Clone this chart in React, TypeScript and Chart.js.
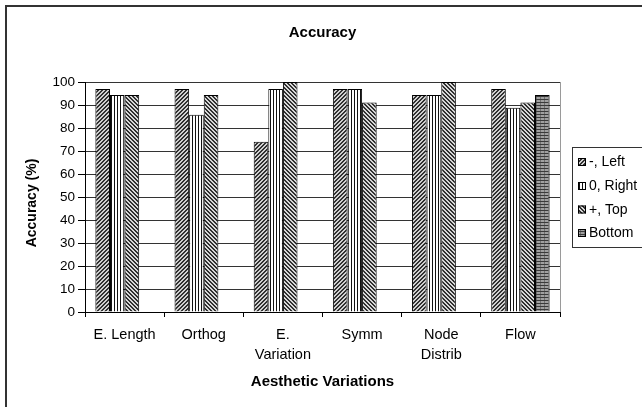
import React, { useEffect, useRef } from "react";
import { Chart, registerables } from "chart.js";

Chart.register(...registerables);

const categories: (string | string[])[] = [
  "E. Length",
  "Orthog",
  ["E.", "Variation"],
  "Symm",
  ["Node", "Distrib"],
  "Flow",
];
const seriesNames = ["-, Left", "0, Right", "+, Top", "Bottom"];
const leftValues = [97, 97, 74, 97, 94.4, 97];
const rightValues = [94.4, 85.8, 97, 97, 94.4, 88.8];
const topValues = [94.4, 94.4, 100, 91.1, 100, 91.1];
const bottomValues: (number | null)[] = [null, null, null, null, null, 94.4];
const yTicks = [0, 10, 20, 30, 40, 50, 60, 70, 80, 90, 100];

const FONT = '"Liberation Sans", Arial, sans-serif';

function makePattern(kind: number): CanvasPattern | string {
  const c = document.createElement("canvas");
  const size = 4;
  c.width = size;
  c.height = size;
  const g = c.getContext("2d");
  if (!g) return "#888";
  if (kind === 0) {
    g.fillStyle = "#d0d0d0";
    g.fillRect(0, 0, size, size);
    g.fillStyle = "#303030";
    for (let y = 0; y < size; y++) {
      g.fillRect((3 - y + size) % size, y, 1, 1);
      g.fillRect((4 - y + size) % size, y, 1, 1);
    }
  } else if (kind === 1) {
    c.width = 3;
    c.height = 1;
    g.fillStyle = "#ffffff";
    g.fillRect(0, 0, 3, 1);
    g.fillStyle = "#111111";
    g.fillRect(0, 0, 1, 1);
  } else if (kind === 2) {
    g.fillStyle = "#d8d8d8";
    g.fillRect(0, 0, size, size);
    g.fillStyle = "#303030";
    for (let y = 0; y < size; y++) {
      g.fillRect(y % size, y, 1, 1);
      g.fillRect((y + 1) % size, y, 1, 1);
    }
  } else {
    c.width = 4;
    c.height = 3;
    g.fillStyle = "#a0a0a0";
    g.fillRect(0, 0, 4, 3);
    g.fillStyle = "#3a3a3a";
    g.fillRect(0, 0, 4, 1);
    g.fillStyle = "#707070";
    g.fillRect(0, 1, 1, 2);
  }
  const ctx = document.createElement("canvas").getContext("2d");
  const p = ctx ? ctx.createPattern(c, "repeat") : null;
  return p || "#888";
}

export default function App() {
  const ref = useRef<HTMLCanvasElement | null>(null);

  useEffect(() => {
    document.body.style.margin = "0";
    const canvas = ref.current;
    if (!canvas) return;
    const patterns = [0, 1, 2, 3].map((k) => makePattern(k));
    const values = [leftValues, rightValues, topValues, bottomValues];

    const decor = {
      id: "decor",
      afterDraw(chart: any) {
        const ctx = chart.ctx as CanvasRenderingContext2D;
        const area = chart.chartArea;
        ctx.save();
        // outer frame
        ctx.strokeStyle = "#333333";
        ctx.lineWidth = 2;
        ctx.strokeRect(6, 6, 720, 460);
        // plot right border
        ctx.strokeStyle = "#9a9a9a";
        ctx.lineWidth = 1;
        ctx.beginPath();
        ctx.moveTo(Math.round(area.right) + 0.5, area.top);
        ctx.lineTo(Math.round(area.right) + 0.5, area.bottom);
        ctx.stroke();
        // titles
        ctx.fillStyle = "#000";
        ctx.textAlign = "center";
        ctx.textBaseline = "middle";
        const cx = (area.left + area.right) / 2;
        ctx.font = `bold 15px ${FONT}`;
        ctx.fillText("Accuracy", cx, 33);
        ctx.fillText("Aesthetic Variations", cx, 382);
        ctx.save();
        ctx.translate(32, 203);
        ctx.rotate(-Math.PI / 2);
        ctx.font = `bold 14px ${FONT}`;
        ctx.fillText("Accuracy (%)", 0, 0);
        ctx.restore();
        // legend
        ctx.strokeStyle = "#333333";
        ctx.lineWidth = 1;
        ctx.strokeRect(572.5, 147.5, 120, 100);
        ctx.font = `14px ${FONT}`;
        ctx.textAlign = "left";
        const rows = [162, 186, 209.5, 233];
        seriesNames.forEach((name, i) => {
          const y = rows[i];
          ctx.fillStyle = patterns[i] as any;
          ctx.fillRect(578, y - 4, 8, 8);
          ctx.strokeStyle = "#000";
          ctx.strokeRect(578.5, y - 3.5, 7, 7);
          ctx.fillStyle = "#000";
          ctx.fillText(name, 589, y + 0.5);
        });
        ctx.restore();
      },
    };

    const chart = new Chart(canvas, {
      type: "bar",
      data: {
        labels: categories as any,
        datasets: seriesNames.map((name, i) => ({
          label: name,
          data: values[i] as any,
          backgroundColor: patterns[i] as any,
          borderColor: "#000",
          borderWidth: 1,
          borderSkipped: "bottom" as any,
          categoryPercentage: 0.738,
          barPercentage: 1,
        })),
      },
      options: {
        responsive: false,
        animation: false,
        layout: { padding: { left: 0, top: 82, right: 82, bottom: 0 } },
        plugins: {
          legend: { display: false },
          title: { display: false },
          tooltip: { enabled: false },
        },
        scales: {
          x: {
            offset: true,
            grid: {
              offset: true,
              drawOnChartArea: false,
              drawTicks: true,
              tickLength: 5,
              color: "#000",
              tickColor: "#000",
            },
            border: { color: "#000", width: 1 },
            ticks: {
              color: "#000",
              padding: 8,
              maxRotation: 0,
              autoSkip: false,
              font: { family: FONT, size: 14.5, lineHeight: 1.38 },
            },
            afterFit(scale: any) {
              scale.height = 95;
            },
          },
          y: {
            min: 0,
            max: 100,
            afterBuildTicks(scale: any) {
              scale.ticks = yTicks.map((v) => ({ value: v }));
            },
            grid: {
              color: "#333333",
              tickColor: "#000",
              tickLength: 7,
              drawTicks: true,
            },
            border: { color: "#000", width: 1 },
            ticks: {
              color: "#000",
              padding: 3,
              font: { family: FONT, size: 13.5 },
            },
            afterFit(scale: any) {
              scale.width = 85;
            },
          },
        },
      },
      plugins: [decor],
    });
    return () => chart.destroy();
  }, []);

  return (
    <canvas
      ref={ref}
      width={642}
      height={407}
      style={{ display: "block", width: "642px", height: "407px" }}
    />
  );
}
